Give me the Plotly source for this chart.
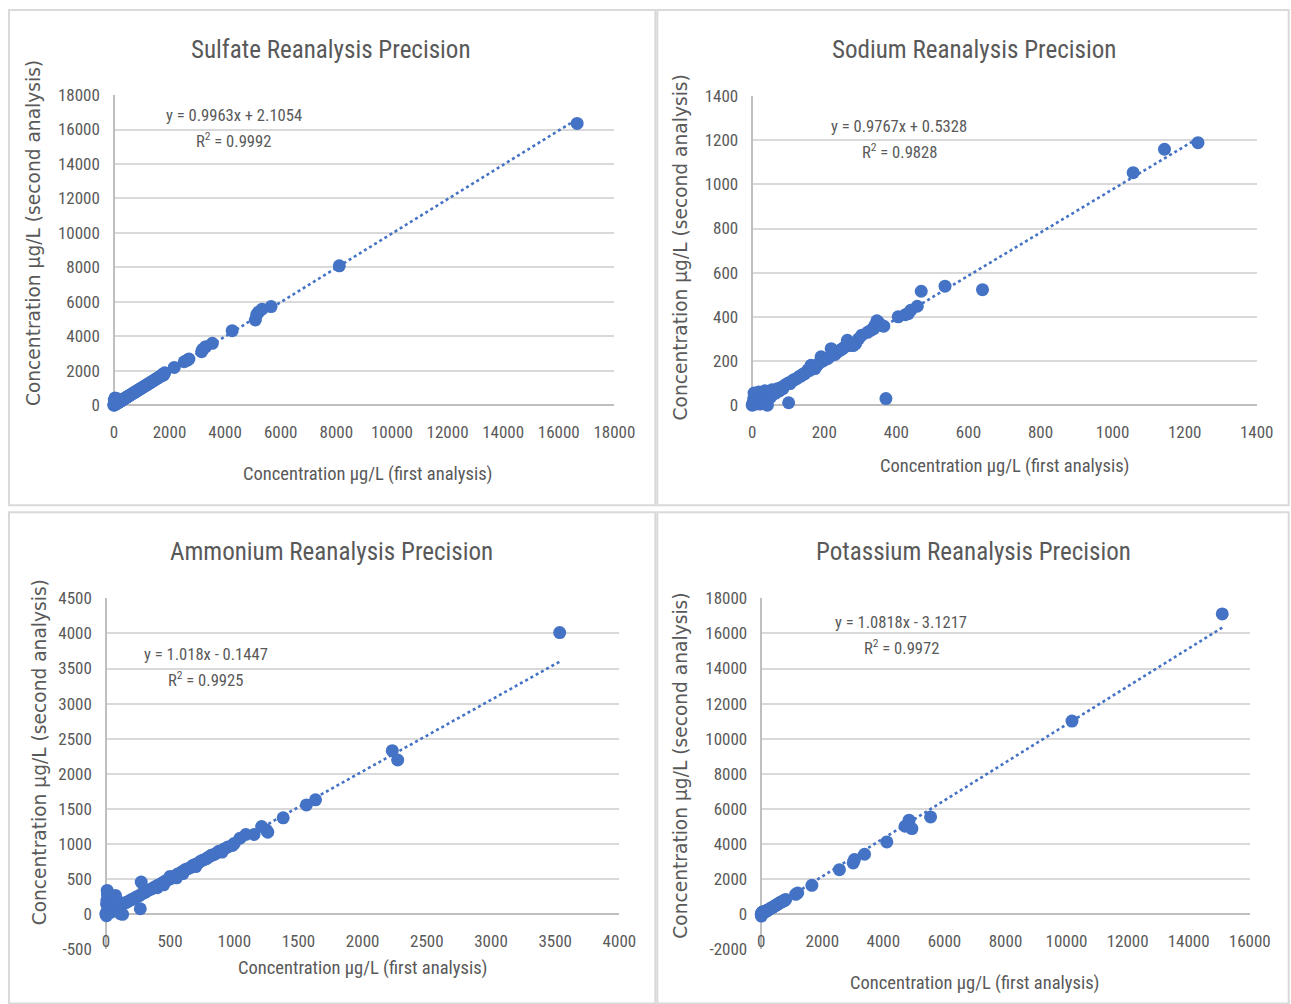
import plotly.graph_objects as go

# ---------------- data ----------------
titles = ["Sulfate Reanalysis Precision", "Sodium Reanalysis Precision",
          "Ammonium Reanalysis Precision", "Potassium Reanalysis Precision"]
equations = ["y = 0.9963x + 2.1054", "y = 0.9767x + 0.5328",
             "y = 1.018x - 0.1447", "y = 1.0818x - 3.1217"]
r_squared = ["0.9992", "0.9828", "0.9925", "0.9972"]
slopes = [0.9963, 0.9767, 1.018, 1.0818]
intercepts = [2.1054, 0.5328, -0.1447, -3.1217]

sulfate_first = [0, 5, 12, 20, 30, 45, 60, 75, 90, 110, 130, 150, 170, 190, 210, 235, 260, 285, 310, 340,
                 370, 400, 430, 460, 490, 520, 555, 590, 625, 660, 700, 740, 780, 820, 860, 900, 945, 990,
                 1035, 1080, 1130, 1180, 1230, 1280, 1330, 1380, 1430, 1480, 1530, 1580, 1630, 1680, 1730,
                 1760, 1790, 1830, 15, 40, 80, 120, 50, 25,
                 2172, 2529, 2648, 2700, 3154, 3200, 3302, 3540, 4255, 5088, 5132, 5200, 5326, 5653, 8107, 16661]
sulfate_second = [2, 40, 10, 25, 60, 40, 70, 80, 95, 115, 135, 150, 165, 195, 205, 240, 255, 290, 300, 345,
                  360, 410, 425, 470, 480, 525, 550, 595, 620, 665, 695, 745, 775, 825, 855, 905, 940, 995,
                  1030, 1085, 1125, 1185, 1225, 1285, 1325, 1390, 1420, 1490, 1525, 1590, 1625, 1690, 1720,
                  1800, 1760, 1880, 300, 420, 200, 380, 150, 250,
                  2192, 2521, 2618, 2680, 3103, 3250, 3394, 3588, 4325, 4946, 5237, 5400, 5567, 5722, 8088, 16351]

sodium_first = [0, 2, 4, 5, 8, 10, 12, 15, 18, 20, 22, 25, 28, 30, 32, 35, 38, 40, 42, 45, 48, 50, 55, 58,
                60, 65, 70, 75, 80, 85, 90, 95, 100, 105, 110, 115, 120, 125, 130, 135, 140, 145, 150, 155,
                160, 163, 170, 174, 180, 185, 191, 195, 200, 205, 210, 219, 220, 225, 230, 240, 245, 250,
                255, 264, 270, 280, 287, 295, 304, 320, 330, 337, 340, 346, 350, 355, 360, 365, 405, 425,
                433, 440, 458, 469, 535, 639, 101, 371, 1057, 1144, 1237]
sodium_second = [0, 10, 30, 55, 5, 20, 45, 15, 60, 35, 5, 25, 50, 10, 40, 65, 20, 30, 0, 55, 45, 35, 70, 50,
                 60, 55, 75, 65, 80, 75, 90, 95, 100, 98, 108, 115, 118, 122, 130, 132, 140, 142, 150, 160,
                 158, 181, 170, 166, 180, 190, 219, 200, 205, 210, 212, 256, 225, 235, 230, 245, 250, 255,
                 262, 294, 270, 270, 279, 300, 317, 330, 340, 347, 360, 382, 375, 365, 360, 358, 400, 410,
                 415, 430, 448, 516, 539, 523, 11, 30, 1053, 1159, 1189]

ammonium_first = [0, 2, 5, 8, 10, 12, 15, 20, 25, 30, 35, 40, 50, 60, 74, 80, 90, 100, 113, 120, 130, 140,
                  160, 180, 200, 220, 240, 260, 268, 275, 280, 300, 320, 340, 360, 380, 400, 420, 440, 460,
                  480, 500, 520, 540, 560, 580, 600, 620, 640, 660, 680, 700, 720, 740, 760, 780, 800, 820,
                  840, 860, 880, 905, 920, 950, 986, 1000, 1045, 1090, 1154, 1213, 1250, 1261, 1381, 1562,
                  1633, 2231, 2273, 3535, 300, 400, 450, 500, 550, 600, 700, 5]
ammonium_second = [0, 20, 150, 200, 341, 280, 100, 250, 50, 180, 120, 30, 200, 150, 270, 220, 100, 120, 10,
                   140, 0, 160, 170, 190, 210, 225, 250, 265, 80, 460, 290, 310, 330, 350, 365, 390, 410, 425,
                   450, 470, 490, 505, 530, 545, 575, 590, 615, 640, 650, 670, 700, 715, 730, 760, 775, 790,
                   815, 840, 850, 870, 900, 886, 930, 960, 981, 1010, 1085, 1137, 1137, 1251, 1200, 1170, 1374,
                   1558, 1630, 2331, 2198, 4012, 350, 380, 420, 540, 520, 580, 680, -20]

potassium_first = [0, 5, 10, 20, 30, 40, 50, 60, 80, 100, 120, 150, 180, 200, 230, 260, 290, 320, 350, 380,
                   420, 460, 500, 540, 580, 620, 664, 700, 740, 770, 800, 1128, 1194, 1659, 2561, 3012, 3052,
                   3384, 4114, 4711, 4843, 4936, 5547, 10178, 15100]
potassium_second = [0, -100, 50, 100, 30, 120, 60, 150, 100, 130, 160, 170, 200, 230, 250, 290, 320, 350, 380,
                    410, 450, 490, 540, 580, 630, 670, 703, 740, 780, 798, 850, 1141, 1217, 1654, 2547, 2928,
                    3118, 3422, 4125, 5019, 5361, 4886, 5551, 11007, 17109]

# tick labels
sulfate_ticks = [0, 2000, 4000, 6000, 8000, 10000, 12000, 14000, 16000, 18000]
sodium_ticks = [0, 200, 400, 600, 800, 1000, 1200, 1400]
ammonium_x_ticks = [0, 500, 1000, 1500, 2000, 2500, 3000, 3500, 4000]
ammonium_y_ticks = [-500, 0, 500, 1000, 1500, 2000, 2500, 3000, 3500, 4000, 4500]
potassium_x_ticks = [0, 2000, 4000, 6000, 8000, 10000, 12000, 14000, 16000]
potassium_y_ticks = [-2000, 0, 2000, 4000, 6000, 8000, 10000, 12000, 14000, 16000, 18000]

x_tick_lists = [sulfate_ticks, sodium_ticks, ammonium_x_ticks, potassium_x_ticks]
y_tick_lists = [sulfate_ticks, sodium_ticks, ammonium_y_ticks, potassium_y_ticks]

x_title = "Concentration µg/L (first analysis)"
y_title = "Concentration µg/L (second analysis)"

# ---------------- layout helpers ----------------
# the page is photographed slightly reduced and shifted; compensate
SX, SY, OX, OY = 0.982, 0.980, 3.0, 10.0
W, H = 1316, 1025
def px(x):
    return (x - OX) / SX / W
def py(y):
    return 1 - (y - OY) / SY / H
def fs(s):
    return s / SX

BLUE = "#4472C4"
GRAY = "#595959"
NARROW = "Liberation Sans Narrow, Arial Narrow, Roboto Condensed, sans-serif"
WIDE = "DejaVu Sans, Verdana, sans-serif"

# plot areas in target pixels: (left, right, top, bottom)
areas = [(113, 614, 95, 405), (752, 1257, 96, 405), (105, 619, 598, 949), (761, 1250, 598, 949)]
xlab_pos = [None, None, 927, 927]
title_pos = [(330, 49), (974, 49), (331, 551), (973, 551)]
eq_pos = [(233, 115, 140), (899, 126, 151), (205, 654, 679), (901, 622, 647)]
xt_pos = [(367, 474), (1005, 466), (362, 968), (975, 983)]
yt_pos = [(32, 233), (680, 247), (38, 752), (680, 765)]
panels = [(8, 655, 10, 505), (657, 1289, 10, 505), (8, 655, 512, 1003), (657, 1289, 512, 1003)]

firsts = [sulfate_first, sodium_first, ammonium_first, potassium_first]
seconds = [sulfate_second, sodium_second, ammonium_second, potassium_second]

fig = go.Figure()
layout = dict(width=W, height=H, autosize=False, margin=dict(l=0, r=0, t=0, b=0),
              paper_bgcolor="white", plot_bgcolor="white", showlegend=False,
              annotations=[], shapes=[])

def tick_text(v):
    return "-" + str(-v) if v < 0 else str(v)

for i in range(4):
    n = "" if i == 0 else str(i + 1)
    xa, ya = "x" + n, "y" + n
    l, r, t, b = areas[i]
    xs, ys = firsts[i], seconds[i]
    x0, x1 = min(xs), max(xs)
    fig.add_trace(go.Scatter(x=[x0, x1], y=[slopes[i] * x0 + intercepts[i], slopes[i] * x1 + intercepts[i]],
                             mode="lines", line=dict(color=BLUE, width=2.6, dash="dot"),
                             xaxis=xa, yaxis=ya, hoverinfo="skip", cliponaxis=False))
    fig.add_trace(go.Scatter(x=xs, y=ys, mode="markers",
                             marker=dict(color=BLUE, size=13, line=dict(width=0)),
                             xaxis=xa, yaxis=ya, cliponaxis=False))
    xt, yt = x_tick_lists[i], y_tick_lists[i]
    xaxis = dict(domain=[px(l), px(r)], range=[xt[0], xt[-1]],
                 tickmode="array", tickvals=xt, ticktext=[tick_text(v) for v in xt],
                 showgrid=False, zeroline=True, zerolinecolor="#bfbfbf", zerolinewidth=1.5,
                 showline=False, ticks="", ticklabelstandoff=15,
                 tickfont=dict(family=NARROW, size=fs(16.7), color=GRAY), fixedrange=True)
    if xlab_pos[i] is not None:
        xaxis.update(anchor="free", position=py(xlab_pos[i]), ticklabelstandoff=2)
    else:
        xaxis.update(anchor=ya)
    yaxis = dict(domain=[py(b), py(t)], range=[yt[0], yt[-1]],
                 tickmode="array", tickvals=yt, ticktext=[tick_text(v) for v in yt],
                 showgrid=True, gridcolor="#d9d9d9", gridwidth=1.5,
                 zeroline=True, zerolinecolor="#bfbfbf", zerolinewidth=1.5,
                 showline=False, ticks="", ticklabelstandoff=13, anchor=xa,
                 tickfont=dict(family=NARROW, size=fs(16.7), color=GRAY), fixedrange=True)
    layout["xaxis" + n] = xaxis
    layout["yaxis" + n] = yaxis

    pl, pr, pt, pb = panels[i]
    layout["shapes"].append(dict(type="rect", xref="paper", yref="paper",
                                 x0=px(pl), x1=px(pr), y0=py(pb), y1=py(pt),
                                 line=dict(color="#d9d9d9", width=2), layer="below"))
    layout["annotations"].append(dict(text=titles[i], x=px(title_pos[i][0]), y=py(title_pos[i][1]),
                                      xref="paper", yref="paper", showarrow=False,
                                      xanchor="center", yanchor="middle",
                                      font=dict(family=NARROW, size=fs(24.6), color=GRAY)))
    ex, ey1, ey2 = eq_pos[i]
    layout["annotations"].append(dict(text=equations[i], x=px(ex), y=py(ey1), xref="paper", yref="paper",
                                      showarrow=False, xanchor="center", yanchor="middle",
                                      font=dict(family=NARROW, size=fs(16.3), color=GRAY)))
    layout["annotations"].append(dict(text="R<sup>2</sup> = " + r_squared[i], x=px(ex), y=py(ey2),
                                      xref="paper", yref="paper",
                                      showarrow=False, xanchor="center", yanchor="middle",
                                      font=dict(family=NARROW, size=fs(16.3), color=GRAY)))
    layout["annotations"].append(dict(text=x_title, x=px(xt_pos[i][0]), y=py(xt_pos[i][1]),
                                      xref="paper", yref="paper", showarrow=False,
                                      xanchor="center", yanchor="middle",
                                      font=dict(family=NARROW, size=fs(18.2), color=GRAY)))
    layout["annotations"].append(dict(text=y_title, x=px(yt_pos[i][0]), y=py(yt_pos[i][1]),
                                      xref="paper", yref="paper", showarrow=False, textangle=-90,
                                      xanchor="center", yanchor="middle",
                                      font=dict(family=WIDE, size=fs(18.3), color=GRAY)))

fig.update_layout(**layout)
post = ("document.body.style.margin='0';document.body.style.overflow='hidden';"
        "var d=document.getElementsByClassName('plotly-graph-div')[0];"
        "d.style.position='absolute';d.style.left='0px';d.style.top='0px';")
fig.write_html("out.html", post_script=post, config={"displayModeBar": False})
